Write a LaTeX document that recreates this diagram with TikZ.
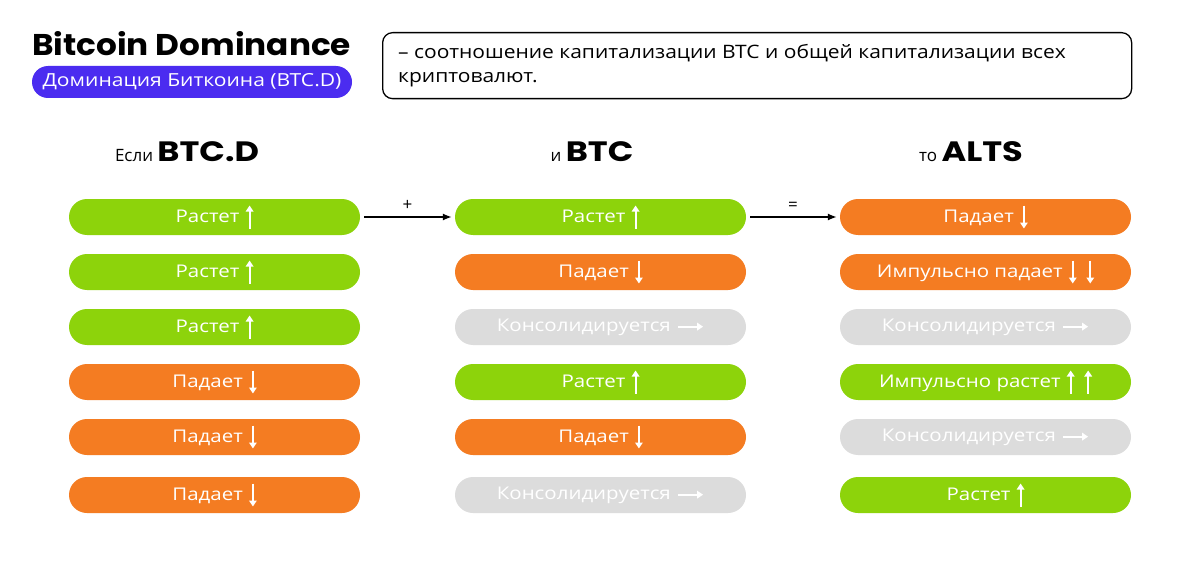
\documentclass[tikz,border=0pt]{standalone}
\usepackage{fontspec}
\setmainfont{Open Sans}
\newfontfamily\wdf{Open Sans}[FakeStretch=1.17]
\newfontfamily\dsf{Open Sans}[FakeStretch=1.135]
\newfontfamily\popt{Poppins}[FakeStretch=1.09]
\newfontfamily\poph{Poppins}[FakeStretch=1.2]
\usetikzlibrary{arrows.meta}
\definecolor{grn}{HTML}{8DD30B}
\definecolor{org}{HTML}{F47C22}
\definecolor{gry}{HTML}{DCDCDC}
\definecolor{prp}{HTML}{4B2CF0}
\tikzset{
  pill/.style={rounded corners=18pt, minimum width=291pt, minimum height=36pt, inner sep=0pt, text=white, font=\wdf\fontsize{17.5}{20}\selectfont},
  up/.style={pill, fill=grn},
  dn/.style={pill, fill=org},
  fl/.style={pill, fill=gry},
  conn/.style={-{Latex[length=9pt,width=7pt]}, line width=1.4pt, black},
  head/.style={font=\fontsize{17}{20}\selectfont, anchor=base},
  sym/.style={draw=white, line width=2pt, -{Triangle[length=6pt,width=7.5pt]}},
}
\newcommand{\UA}{\hspace{1pt}\tikz[baseline=0pt]\draw[sym] (0pt,-6pt) -- (0pt,17pt);}
\newcommand{\DA}{\hspace{1pt}\tikz[baseline=0pt]\draw[sym] (0pt,17pt) -- (0pt,-6pt);}
\newcommand{\RA}{\hspace{1pt}\tikz[baseline=0pt]\draw[sym] (0pt,4.5pt) -- (25pt,4.5pt);}
\newcommand{\HB}[1]{{\poph\bfseries\fontsize{28}{30}\selectfont #1}}
\begin{document}
\begin{tikzpicture}[x=1pt,y=-1pt]
\useasboundingbox[fill=white] (0,0) rectangle (1200,575);
% title
\node[anchor=base west, inner sep=0pt, font=\popt\bfseries\fontsize{30}{34}\selectfont] (title) at (32,56) {Bitcoin Dominance};
\node[fill=prp, rounded corners=16pt, minimum width=320pt, minimum height=32pt, inner sep=0pt, text=white, font=\wdf\fontsize{18}{20}\selectfont] (sub) at (192,82) {Доминация Биткоина (BTC.D)};
% description box
\node[draw=black, line width=1.3pt, rounded corners=10pt, minimum width=749pt, minimum height=66pt, anchor=north west, inner sep=0pt] (desc) at (382,32) {};
\node[anchor=base west, inner sep=0pt, font=\dsf\fontsize{18.5}{24}\selectfont] (descA) at (398,59) {– соотношение капитализации BTC и общей капитализации всех};
\node[anchor=base west, inner sep=0pt, font=\dsf\fontsize{18.5}{24}\selectfont] (descB) at (398,83) {криптовалют.};
% headings
\node[head] (h1) at (187,162) {Если \HB{BTC.D}};
\node[head] (h2) at (592,162) {и \HB{BTC}};
\node[head] (h3) at (971,162) {то \HB{ALTS}};
% column 1
\node[up] (a1) at (214.5,217) {Растет \UA};
\node[up] (a2) at (214.5,272) {Растет \UA};
\node[up] (a3) at (214.5,327) {Растет \UA};
\node[dn] (a4) at (214.5,382) {Падает \DA};
\node[dn] (a5) at (214.5,437) {Падает \DA};
\node[dn] (a6) at (214.5,495) {Падает \DA};
% column 2
\node[up] (b1) at (600.5,217) {Растет \UA};
\node[dn] (b2) at (600.5,272) {Падает \DA};
\node[fl] (b3) at (600.5,327) {Консолидируется \RA};
\node[up] (b4) at (600.5,382) {Растет \UA};
\node[dn] (b5) at (600.5,437) {Падает \DA};
\node[fl] (b6) at (600.5,495) {Консолидируется \RA};
% column 3
\node[dn] (c1) at (985.5,217) {Падает \DA};
\node[dn] (c2) at (985.5,272) {Импульсно падает \DA\hspace{9pt}\DA};
\node[fl] (c3) at (985.5,327) {Консолидируется \RA};
\node[up] (c4) at (985.5,382) {Импульсно растет \UA\hspace{9pt}\UA};
\node[fl] (c5) at (985.5,437) {Консолидируется \RA};
\node[up] (c6) at (985.5,495) {Растет \UA};
% connectors
\draw[conn, shorten <=4pt, shorten >=3pt] (a1) -- node[above=2pt, font=\fontsize{17}{18}\selectfont] {+} (b1);
\draw[conn, shorten <=4pt, shorten >=3pt] (b1) -- node[above=2pt, font=\fontsize{17}{18}\selectfont] {=} (c1);
\end{tikzpicture}
\end{document}
